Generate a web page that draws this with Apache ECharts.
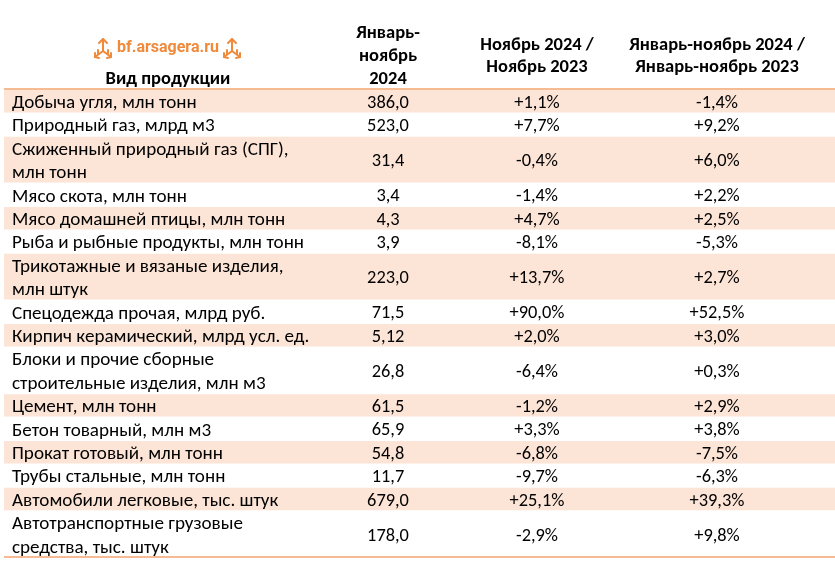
<!DOCTYPE html>
<html><head><meta charset="utf-8">
<script src="https://cdn.jsdelivr.net/npm/echarts@6/dist/echarts.min.js"></script>
<style>html,body{margin:0;padding:0;background:#fff}#c{width:835px;height:566px}</style>
</head><body><div id="c"></div>
<script>
const products = [
  'Добыча угля, млн тонн',
  'Природный газ, млрд м3',
  'Сжиженный природный газ (СПГ),\nмлн тонн',
  'Мясо скота, млн тонн',
  'Мясо домашней птицы, млн тонн',
  'Рыба и рыбные продукты, млн тонн',
  'Трикотажные и вязаные изделия,\nмлн штук',
  'Спецодежда прочая, млрд руб.',
  'Кирпич керамический, млрд усл. ед.',
  'Блоки и прочие сборные\nстроительные изделия, млн м3',
  'Цемент, млн тонн',
  'Бетон товарный, млн м3',
  'Прокат готовый, млн тонн',
  'Трубы стальные, млн тонн',
  'Автомобили легковые, тыс. штук',
  'Автотранспортные грузовые\nсредства, тыс. штук'
];
const ytdValue = [386.0, 523.0, 31.4, 3.4, 4.3, 3.9, 223.0, 71.5, 5.12, 26.8, 61.5, 65.9, 54.8, 11.7, 679.0, 178.0];
const monthChange = [1.1, 7.7, -0.4, -1.4, 4.7, -8.1, 13.7, 90.0, 2.0, -6.4, -1.2, 3.3, -6.8, -9.7, 25.1, -2.9];
const ytdChange = [-1.4, 9.2, 6.0, 2.2, 2.5, -5.3, 2.7, 52.5, 3.0, 0.3, 2.9, 3.8, -7.5, -6.3, 39.3, 9.8];
const headers = ['Вид продукции', 'Январь-\nноябрь\n2024', 'Ноябрь 2024 /\nНоябрь 2023', 'Январь-ноябрь 2024 /\nЯнварь-ноябрь 2023'];

const FONT = 'Carlito, Lato, "Open Sans", sans-serif';
const ORANGE = '#F4A46E';
const SHADE = '#FCE4D6';
const BODY = '18.4px ';
const LABEL = '19.1px ';
const HEAD = 'bold 18.5px ';

function fmtNum(v){ let s = v.toFixed(1); if (Math.round(v*10)/10 !== v) s = v.toFixed(2); return s.replace('.', ','); }
function fmtPct(v){ return (v >= 0 ? '+' : '-') + Math.abs(v).toFixed(1).replace('.', ',') + '%'; }

// row extents in line units
const rows = [];
let acc = 0;
products.forEach((p, i) => {
  const n = p.split('\n').length;
  rows.push([acc, acc + n, i]);
  acc += n;
});
const totalUnits = acc;

// column centres in axis units (grid x)
const colX = { label: 8, c1: 384, c2: 533, c3: 713 };

function logoIcon(){
  const s = { stroke: '#F08A3A', lineWidth: 2, fill: 'none', lineCap: 'round', lineJoin: 'round' };
  return [
    { type: 'polyline', shape: { points: [[0, 3], [0, -9]] }, style: s },
    { type: 'polyline', shape: { points: [[-4, -5], [0, -9], [4, -5]] }, style: s },
    { type: 'polyline', shape: { points: [[0, 3], [-8, 9]] }, style: s },
    { type: 'polyline', shape: { points: [[-8, 5], [-8, 9], [-4, 10]] }, style: s },
    { type: 'polyline', shape: { points: [[0, 3], [8, 9]] }, style: s },
    { type: 'polyline', shape: { points: [[8, 5], [8, 9], [4, 10]] }, style: s },
    { type: 'polyline', shape: { points: [[-5, 2], [-5, 6]] }, style: s },
    { type: 'polyline', shape: { points: [[5, 2], [5, 6]] }, style: s }
  ];
}

const chart = echarts.init(document.getElementById('c'), null, {renderer: 'canvas'});
chart.setOption({
  animation: false,
  grid: { left: 4, right: 0, top: 89, bottom: 9 },
  xAxis: { type: 'value', min: 0, max: 831, show: false },
  yAxis: { type: 'value', min: 0, max: totalUnits, inverse: true, show: false },
  graphic: [
    { type: 'text', x: 168, y: 79.5, style: { text: headers[0], align: 'center', verticalAlign: 'middle', font: HEAD + FONT, fill: '#000' } },
    { type: 'text', x: 388, y: 56.5, style: { text: headers[1], align: 'center', verticalAlign: 'middle', lineHeight: 23, font: HEAD + FONT, fill: '#000' } },
    { type: 'text', x: 537, y: 56.5, style: { text: headers[2], align: 'center', verticalAlign: 'middle', lineHeight: 22.5, font: HEAD + FONT, fill: '#000' } },
    { type: 'text', x: 717, y: 56.5, style: { text: headers[3], align: 'center', verticalAlign: 'middle', lineHeight: 22.5, font: HEAD + FONT, fill: '#000' } },
    { type: 'text', x: 168, y: 48, style: { text: 'bf.arsagera.ru', align: 'center', verticalAlign: 'middle', font: 'bold 16px Roboto, sans-serif', fill: '#F08A3A' } },
    { type: 'group', x: 103, y: 48, children: logoIcon() },
    { type: 'group', x: 232, y: 48, children: logoIcon() }
  ],
  series: [{
    type: 'custom',
    coordinateSystem: 'cartesian2d',
    encode: { x: -1, y: [0, 1] },
    data: rows,
    renderItem: function(params, api){
      const i = api.value(2);
      const y0 = api.coord([0, api.value(0)])[1];
      const y1 = api.coord([0, api.value(1)])[1];
      const xL = api.coord([0, 0])[0];
      const xR = api.coord([831, 0])[0];
      const ym = (y0 + y1) / 2 + 2.5;
      const children = [];
      if (i % 2 === 0) {
        children.push({ type: 'rect', shape: { x: xL, y: y0 + 1, width: xR - xL, height: y1 - y0 - 1 }, style: { fill: SHADE } });
      }
      const st = (text, x, align, f) => ({ type: 'text', style: { text, x, y: ym, align, verticalAlign: 'middle', lineHeight: 23.4, font: f + FONT, fill: '#000' } });
      children.push(st(products[i], api.coord([colX.label, 0])[0], 'left', LABEL));
      children.push(st(fmtNum(ytdValue[i]), api.coord([colX.c1, 0])[0], 'center', BODY));
      children.push(st(fmtPct(monthChange[i]), api.coord([colX.c2, 0])[0], 'center', BODY));
      children.push(st(fmtPct(ytdChange[i]), api.coord([colX.c3, 0])[0], 'center', BODY));
      if (i === 0) children.push({ type: 'line', shape: { x1: xL, y1: y0, x2: xR, y2: y0 }, style: { stroke: ORANGE, lineWidth: 1.5 } });
      if (i === products.length - 1) children.push({ type: 'line', shape: { x1: xL, y1: y1, x2: xR, y2: y1 }, style: { stroke: ORANGE, lineWidth: 1.5 } });
      return { type: 'group', children };
    }
  }]
});
</script></body></html>
